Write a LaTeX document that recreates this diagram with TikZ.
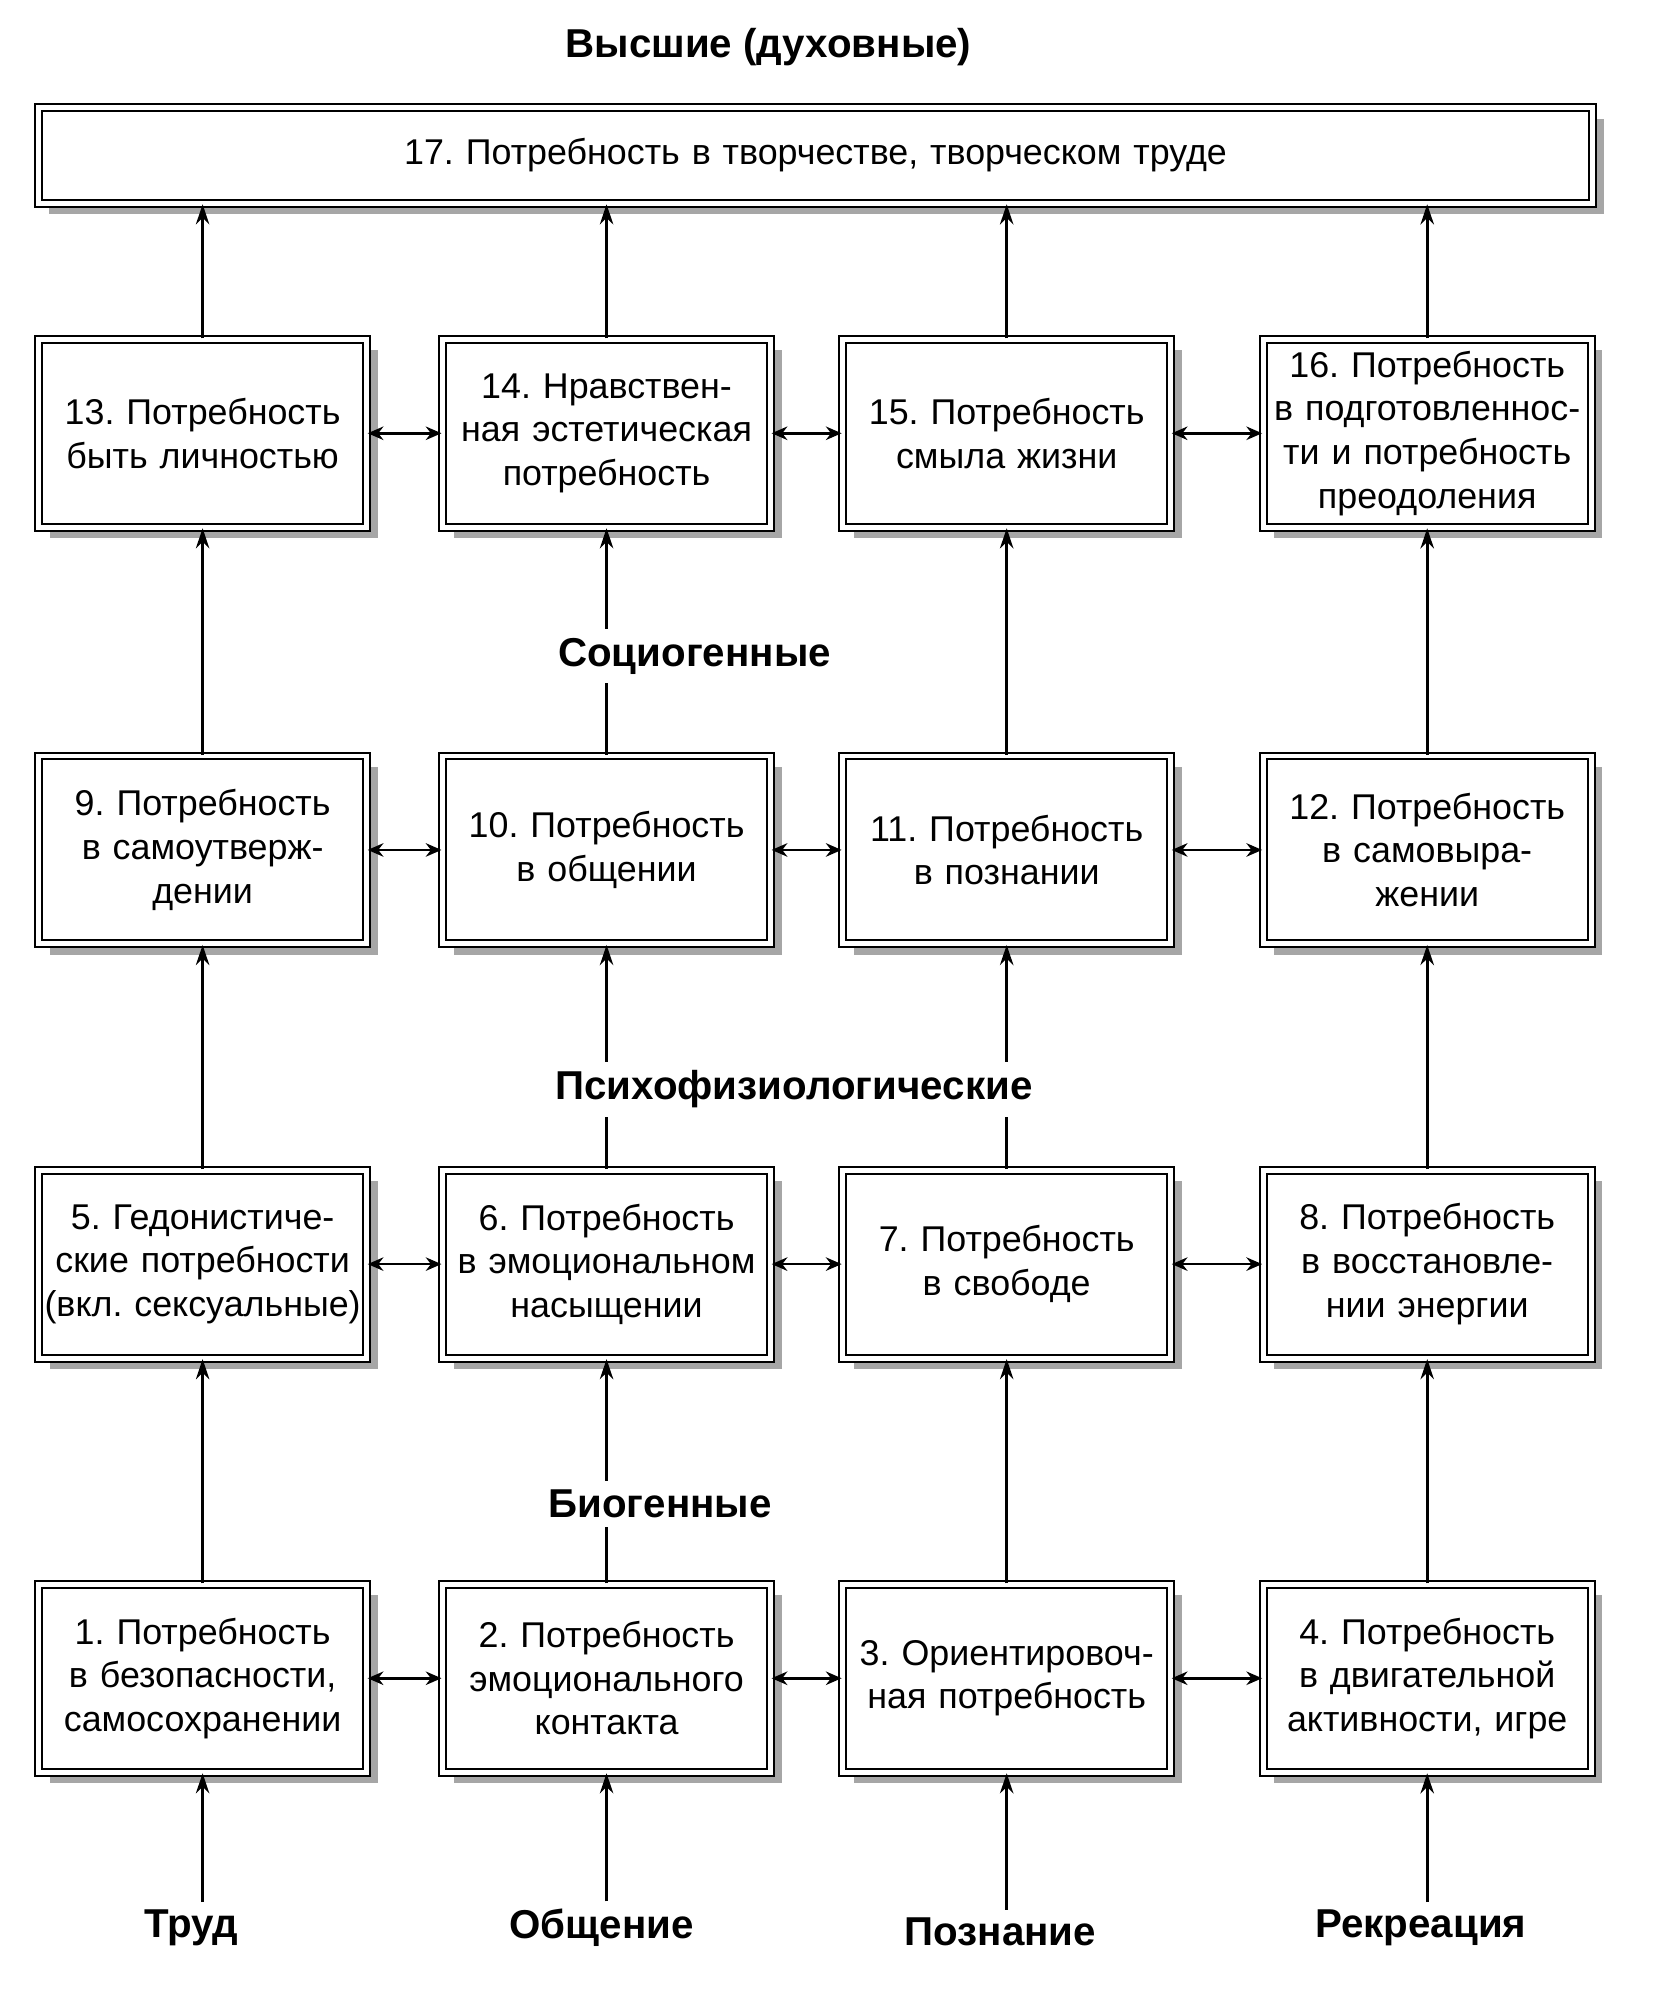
\documentclass[tikz,border=0pt]{standalone}
\usepackage{fontspec}
\setmainfont{Liberation Sans}
\usetikzlibrary{shadows,arrows.meta}
\frenchspacing
\begin{document}
\begin{tikzpicture}[x=0.2mm,y=-0.2mm,
 box/.style={draw, line width=0.9pt, double distance=2.2pt, fill=white,
   drop shadow={shadow xshift=5pt, shadow yshift=-5pt, fill=black!35, opacity=1},
   minimum width=51.5mm, minimum height=29.5mm, text width=51mm, align=center,
   inner sep=0pt, font=\fontsize{16}{19.5}\selectfont},
 lab/.style={font=\fontsize{18}{20}\selectfont\bfseries},
 arr/.style={-{Stealth[length=9pt,width=6pt]}, line width=1.2pt},
 darr/.style={{Stealth[length=7pt,width=6pt]}-{Stealth[length=7pt,width=6pt]}, line width=1.2pt}]
\useasboundingbox (0,0) rectangle (1300,1575);
\node[lab] (h) at (603,37) {Высшие (духовные)};
\node[box, minimum width=244mm, minimum height=15mm, text width=240mm] (b17) at (640,122) {17. Потребность в творчестве, творческом труде};
\def\cA{159}\def\cB{476}\def\cC{790}\def\cD{1120}
\node[box] (b13) at (\cA,340) {13. Потребность\\быть личностью};
\node[box] (b14) at (\cB,340) {14. Нравствен-\\ная эстетическая\\потребность};
\node[box] (b15) at (\cC,340) {15. Потребность\\смыла жизни};
\node[box] (b16) at (\cD,340) {16. Потребность\\в подготовленнос-\\ти и потребность\\преодоления};
\node[box] (b9) at (\cA,667) {9. Потребность\\в самоутверж-\\дении};
\node[box] (b10) at (\cB,667) {10. Потребность\\в общении};
\node[box] (b11) at (\cC,667) {11. Потребность\\в познании};
\node[box] (b12) at (\cD,667) {12. Потребность\\в самовыра-\\жении};
\node[box] (b5) at (\cA,992) {5. Гедонистиче-\\ские потребности\\(вкл. сексуальные)};
\node[box] (b6) at (\cB,992) {6. Потребность\\в эмоциональном\\насыщении};
\node[box] (b7) at (\cC,992) {7. Потребность\\в свободе};
\node[box] (b8) at (\cD,992) {8. Потребность\\в восстановле-\\нии энергии};
\node[box] (b1) at (\cA,1317) {1. Потребность\\в безопасности,\\самосохранении};
\node[box] (b2) at (\cB,1317) {2. Потребность\\эмоционального\\контакта};
\node[box] (b3) at (\cC,1317) {3. Ориентировоч-\\ная потребность};
\node[box] (b4) at (\cD,1317) {4. Потребность\\в двигательной\\активности, игре};
\node[lab] (t1) at (150,1513) {Труд};
\node[lab] (t2) at (472,1513) {Общение};
\node[lab] (t3) at (785,1516) {Познание};
\node[lab] (t4) at (1115,1513) {Рекреация};
\foreach \a/\b in {b1/b5,b2/b6,b3/b7,b4/b8,b5/b9,b6/b10,b7/b11,b8/b12,b9/b13,b10/b14,b11/b15,b12/b16}
  \draw[arr] (\a.north) -- (\b.south);
\foreach \a in {b13,b14,b15,b16}
  \draw[arr] (\a.north) -- (\a.north |- b17.south);
\foreach \t/\b in {t1/b1,t2/b2,t3/b3,t4/b4}
  \draw[arr] (\t.north -| \b) -- (\b.south);
\foreach \a/\b in {b1/b2,b2/b3,b3/b4,b5/b6,b6/b7,b7/b8,b9/b10,b10/b11,b11/b12,b13/b14,b14/b15,b15/b16}
  \draw[darr] (\a.east) -- (\b.west);
\node[lab, fill=white, inner sep=4pt] (s) at (545,515) {Социогенные};
\node[lab, fill=white, inner sep=4pt] (p) at (623,855) {Психофизиологические};
\node[lab, fill=white, inner sep=4pt] (bg) at (518,1180) {Биогенные};
\end{tikzpicture}
\end{document}
